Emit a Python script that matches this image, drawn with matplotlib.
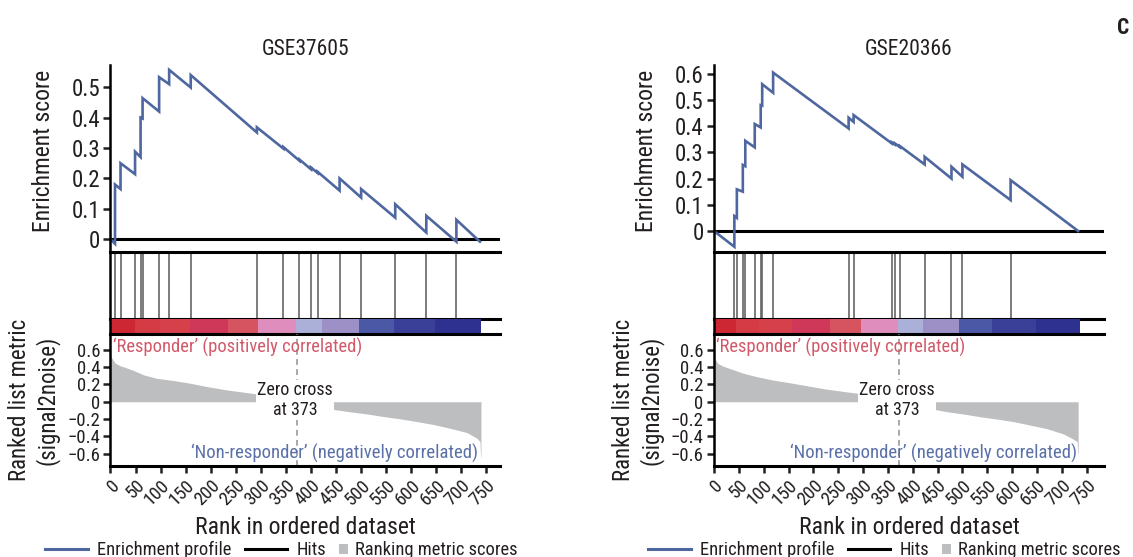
import matplotlib
matplotlib.use('Agg')
import matplotlib.pyplot as plt
from matplotlib import font_manager
from matplotlib.lines import Line2D
from matplotlib.patches import Rectangle

# ---------------- fonts ----------------
avail = {f.name for f in font_manager.fontManager.ttflist}
FONT = 'DejaVu Sans'
for cand in ['Liberation Sans Narrow', 'Roboto Condensed', 'Arial Narrow',
             'Open Sans Condensed', 'Roboto', 'Liberation Sans']:
    if cand in avail:
        FONT = cand
        break
plt.rcParams['font.family'] = [FONT, 'DejaVu Sans']
plt.rcParams['axes.unicode_minus'] = True

# ---------------- data ----------------
titles = ['GSE37605', 'GSE20366']

# hits (rank positions) and running enrichment score just before / after each hit
hits_L = [9, 20, 49, 60, 64, 97, 117, 160, 292, 345, 377, 400, 413, 457, 500, 568, 630, 690]
es_before_L = [-0.015, 0.165, 0.214, 0.27, 0.397, 0.42, 0.51, 0.499, 0.351, 0.298,
               0.258, 0.23, 0.218, 0.16, 0.137, 0.071, 0.022, -0.008]
es_after_L = [0.18, 0.25, 0.288, 0.40, 0.464, 0.533, 0.557, 0.54, 0.368, 0.303,
              0.262, 0.236, 0.222, 0.20, 0.165, 0.115, 0.077, 0.064]
es_end_rank_L = 737
es_end_L = -0.008

hits_R = [41, 46, 58, 63, 82, 94, 97, 119, 271, 281, 358, 364, 374, 424, 478, 500, 597]
es_before_R = [-0.06, 0.050, 0.150, 0.247, 0.319, 0.395, 0.478, 0.527, 0.391, 0.416,
               0.334, 0.330, 0.320, 0.254, 0.20, 0.207, 0.118]
es_after_R = [0.057, 0.159, 0.252, 0.344, 0.408, 0.48, 0.56, 0.604, 0.432, 0.442,
              0.338, 0.334, 0.324, 0.283, 0.245, 0.254, 0.194]
es_end_rank_R = 733
es_end_R = 0.0

# ranked list metric (signal2noise), visible parts
pos_rank_L = [0, 3, 9, 19, 32, 46, 66, 92, 125, 159, 192, 232, 272, 293]
pos_val_L = [0.53, 0.50, 0.446, 0.415, 0.39, 0.36, 0.31, 0.27, 0.245, 0.213, 0.175, 0.136, 0.105, 0.09]
neg_rank_L = [444, 478, 511, 544, 578, 611, 644, 677, 711, 731, 737, 738, 739]
neg_val_L = [-0.088, -0.116, -0.14, -0.17, -0.197, -0.228, -0.262, -0.305, -0.355, -0.42, -0.46, -0.6, -0.66]

pos_rank_R = [0, 1, 8, 18, 38, 58, 85, 118, 151, 185, 224, 264, 291]
pos_val_R = [0.56, 0.50, 0.44, 0.41, 0.37, 0.33, 0.29, 0.25, 0.22, 0.186, 0.147, 0.116, 0.097]
neg_rank_R = [440, 470, 504, 537, 570, 604, 637, 670, 703, 723, 731, 732, 733]
neg_val_R = [-0.085, -0.116, -0.143, -0.174, -0.2, -0.23, -0.27, -0.31, -0.37, -0.43, -0.46, -0.58, -0.62]

zero_cross = 373

# colour strip segments
strip_bounds_L = [0, 49, 99, 159, 235, 295, 370, 421, 495, 565, 648, 740]
strip_bounds_R = [0, 45, 91, 158, 234, 295, 370, 420, 494, 560, 648, 736]
strip_colors = ['#cd2733', '#d43b45', '#d5404b', '#cf3859', '#d6545f', '#df8dbd',
                '#abb0d9', '#9c90c7', '#4b58a5', '#3a3f98', '#2e3190']

es_ticks_L = [0, 0.1, 0.2, 0.3, 0.4, 0.5]
es_ticks_R = [0, 0.1, 0.2, 0.3, 0.4, 0.5, 0.6]
rank_ticks = [0.6, 0.4, 0.2, 0, -0.2, -0.4, -0.6]
rank_ticklabels = ['0.6', '0.4', '0.2', '0', '\u22120.2', '\u22120.4', '\u22120.6']
x_ticks = list(range(0, 751, 50))

legend_labels = ['Enrichment profile', 'Hits', 'Ranking metric scores']

# ---------------- styles ----------------
ES_COLOR = '#4f67a0'
GREY = '#bdbec0'
TXT = '#231f20'
RED_TXT = '#d2596a'
BLUE_TXT = '#5a70a8'
SPW = 1.8   # spine width
THICK = 2.2

W, H = 1133, 557
fig = plt.figure(figsize=(W / 100, H / 100), dpi=100)


def fx(px):
    return px / W


def fy(py):
    return 1 - py / H


def style_ticks(ax, labelsize):
    ax.tick_params(axis='both', direction='out', length=5, width=SPW, colors=TXT,
                   labelsize=labelsize, pad=2.5)


def column(left_px, right_px, xmax, title, hits, es_b, es_a, end_rank, es_end,
           es_ylim, es_ticks, pr, pv, nr, nv, bounds, legend_x):
    L = fx(left_px)
    Wd = fx(right_px) - fx(left_px)
    ax_es = fig.add_axes([L, fy(252), Wd, fy(65) - fy(252)])
    ax_hit = fig.add_axes([L, fy(319), Wd, fy(252) - fy(319)])
    ax_bar = fig.add_axes([L, fy(334), Wd, fy(319) - fy(334)])
    ax_rk = fig.add_axes([L, fy(466), Wd, fy(334) - fy(466)])
    for a in (ax_es, ax_hit, ax_bar, ax_rk):
        a.set_xlim(0, xmax)
        a.patch.set_alpha(0)
        for s in a.spines.values():
            s.set_visible(False)
        a.spines['left'].set_visible(True)
        a.spines['left'].set_linewidth(SPW)
        a.spines['left'].set_color('black')

    # --- enrichment score
    xs, ys = [0], [0]
    for h, b, a_ in zip(hits, es_b, es_a):
        xs += [h, h]
        ys += [b, a_]
    xs.append(end_rank)
    ys.append(es_end)
    ax_es.axhline(0, color='black', lw=THICK, zorder=1)
    ax_es.plot(xs, ys, color=ES_COLOR, lw=1.9, zorder=2, solid_joinstyle='miter')
    ax_es.set_ylim(*es_ylim)
    ax_es.set_yticks(es_ticks)
    ax_es.set_yticklabels(['0' if t == 0 else f'{t:.1f}' for t in es_ticks])
    ax_es.set_xticks([])
    style_ticks(ax_es, 16.5)
    ax_es.set_title(title, fontsize=15.5, color=TXT, pad=7)
    ax_es.set_ylabel('Enrichment score', fontsize=17, color=TXT)
    ax_es.yaxis.set_label_coords((55 - 110.5) / 389.5, 0.54)

    # --- hits
    ax_hit.vlines(hits, 0, 1, color='#666666', lw=1.2)
    ax_hit.set_ylim(0, 1)
    ax_hit.set_xticks([])
    ax_hit.set_yticks([])
    for s in ('top', 'bottom'):
        ax_hit.spines[s].set_visible(True)
        ax_hit.spines[s].set_linewidth(THICK)
        ax_hit.spines[s].set_color('black')

    # --- colour strip
    segs = [(bounds[i], bounds[i + 1] - bounds[i]) for i in range(len(bounds) - 1)]
    ax_bar.broken_barh(segs, (0, 1), facecolors=strip_colors, edgecolor='none')
    ax_bar.set_ylim(0, 1)
    ax_bar.set_xticks([])
    ax_bar.set_yticks([])
    ax_bar.spines['bottom'].set_visible(True)
    ax_bar.spines['bottom'].set_linewidth(THICK)
    ax_bar.spines['bottom'].set_color('black')

    # --- ranked list metric
    ax_rk.fill_between(pr, pv, 0, color=GREY, lw=0, zorder=1)
    ax_rk.fill_between(nr, nv, 0, color=GREY, lw=0, zorder=1)
    ax_rk.axvline(zero_cross, color='#a8a8a8', lw=1.4, ls=(0, (3, 2.2)), zorder=2)
    ax_rk.set_ylim(-0.74, 0.78)
    ax_rk.set_yticks(rank_ticks)
    ax_rk.set_yticklabels(rank_ticklabels)
    ax_rk.set_xticks(x_ticks)
    ax_rk.set_xticklabels([str(t) for t in x_ticks])
    ax_rk.spines['bottom'].set_visible(True)
    ax_rk.spines['bottom'].set_linewidth(THICK)
    ax_rk.spines['bottom'].set_color('black')
    style_ticks(ax_rk, 13.5)
    for lab in ax_rk.get_xticklabels():
        lab.set_rotation(45)
        lab.set_ha('right')
        lab.set_va('top')
        lab.set_rotation_mode('anchor')
    ax_rk.set_ylabel('Ranked list metric\n(signal2noise)', fontsize=16.5, color=TXT,
                     linespacing=1.2)
    ax_rk.yaxis.set_label_coords((60 - 110.5) / 389.5, 0.5)
    ax_rk.set_xlabel('Rank in ordered dataset', fontsize=17, color=TXT)
    ax_rk.xaxis.set_label_coords(0.5, -0.38)

    ax_rk.text(5, 0.63, '\u2018Responder\u2019 (positively correlated)', color=RED_TXT,
               fontsize=13.3, ha='left', va='center', zorder=4)
    ax_rk.text(end_rank - 3, -0.59, '\u2018Non-responder\u2019 (negatively correlated)',
               color=BLUE_TXT, fontsize=13.5, ha='right', va='center', zorder=4)
    ax_rk.text(368, 0.02, 'Zero cross\nat 373', color=TXT, fontsize=13, ha='center',
               va='center', linespacing=1.1, zorder=5,
               bbox=dict(facecolor='white', edgecolor='none', pad=1.0))

    # --- legend (manual, below the column)
    x0 = legend_x
    yb = fy(555)
    fs = 13.3
    fig.add_artist(Line2D([fx(x0), fx(x0 + 43)], [fy(549)] * 2, color=ES_COLOR, lw=2.2,
                          transform=fig.transFigure))
    fig.text(fx(x0 + 52), yb, legend_labels[0], fontsize=fs, color=TXT, va='baseline')
    fig.add_artist(Line2D([fx(x0 + 200), fx(x0 + 242)], [fy(549)] * 2, color='black', lw=2.2,
                          transform=fig.transFigure))
    fig.text(fx(x0 + 252), yb, legend_labels[1], fontsize=fs, color=TXT, va='baseline')
    fig.add_artist(Rectangle((fx(x0 + 294), fy(554)), fx(9), fy(544) - fy(554),
                             facecolor=GREY, edgecolor='none', transform=fig.transFigure))
    fig.text(fx(x0 + 310), yb, legend_labels[2], fontsize=fs, color=TXT, va='baseline')


column(110.5, 500, 777, titles[0], hits_L, es_before_L, es_after_L, es_end_rank_L, es_end_L,
       (-0.042, 0.573), es_ticks_L, pos_rank_L, pos_val_L, neg_rank_L, neg_val_L,
       strip_bounds_L, 45)
column(714, 1104, 785, titles[1], hits_R, es_before_R, es_after_R, es_end_rank_R, es_end_R,
       (-0.08, 0.633), es_ticks_R, pos_rank_R, pos_val_R, neg_rank_R, neg_val_R,
       strip_bounds_R, 648)

fig.text(fx(1123), fy(28), 'C', fontsize=15.5, fontweight='bold', color=TXT,
         ha='center', va='center')

fig.savefig('out.png', dpi=100)
